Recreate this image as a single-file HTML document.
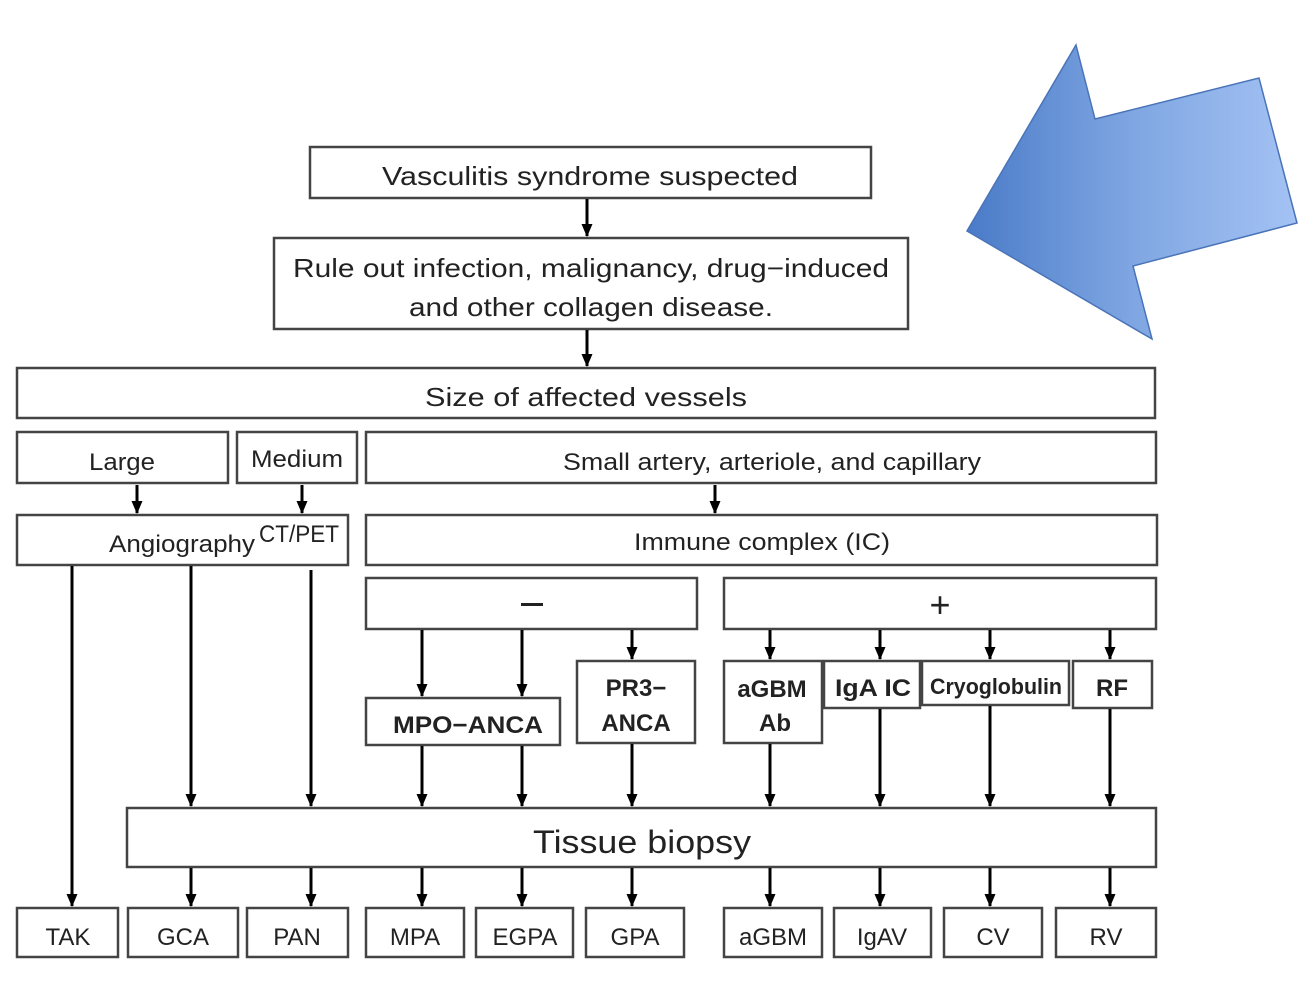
<!DOCTYPE html>
<html><head><meta charset="utf-8"><style>
html,body{margin:0;padding:0;background:#fff;}
svg{display:block;}
text{font-family:"Liberation Sans","DejaVu Sans",sans-serif;fill:#222;}
</style></head><body>
<svg width="1316" height="986" viewBox="0 0 1316 986" xmlns="http://www.w3.org/2000/svg">
<defs>
<marker id="ah" markerWidth="13" markerHeight="11" refX="12" refY="5.5" orient="auto" markerUnits="userSpaceOnUse" viewBox="0 0 13 11">
<path d="M0,0 L13,5.5 L0,11 Z" fill="#000"/>
</marker>
<linearGradient id="bg" x1="0" y1="0" x2="1" y2="0">
<stop offset="0" stop-color="#4a7bc8"/><stop offset="0.5" stop-color="#7fa6e2"/><stop offset="1" stop-color="#a4c2f4"/>
</linearGradient>
</defs>
<polygon points="1076,45 1095,119 1259,78 1297,223 1133,266 1152,339 967,231" fill="url(#bg)" stroke="#4a74b8" stroke-width="1.5"/>
<g fill="#fff" stroke="#444" stroke-width="2.5">
<rect x="310" y="147" width="561" height="51"/>
<rect x="274" y="238" width="634" height="91"/>
<rect x="17" y="368" width="1138" height="50"/>
<rect x="17" y="432" width="211" height="51"/>
<rect x="237" y="432" width="120" height="51"/>
<rect x="366" y="432" width="790" height="51"/>
<rect x="17" y="515" width="331" height="50"/>
<rect x="366" y="515" width="791" height="50"/>
<rect x="366" y="578" width="331" height="51"/>
<rect x="724" y="578" width="432" height="51"/>
<rect x="366" y="698" width="194" height="47"/>
<rect x="577" y="661" width="118" height="82"/>
<rect x="724" y="661" width="98" height="82"/>
<rect x="824" y="661" width="96" height="47"/>
<rect x="922" y="661" width="147" height="44"/>
<rect x="1073" y="661" width="79" height="47"/>
<rect x="127" y="808" width="1029" height="59"/>
<rect x="17" y="908" width="101" height="49"/>
<rect x="128" y="908" width="110" height="49"/>
<rect x="247" y="908" width="101" height="49"/>
<rect x="366" y="908" width="98" height="49"/>
<rect x="476" y="908" width="97" height="49"/>
<rect x="586" y="908" width="98" height="49"/>
<rect x="724" y="908" width="98" height="49"/>
<rect x="834" y="908" width="97" height="49"/>
<rect x="944" y="908" width="98" height="49"/>
<rect x="1056" y="908" width="100" height="49"/>
</g>
<g stroke="#000" stroke-width="3" marker-end="url(#ah)">
<line x1="587" y1="199" x2="587" y2="236"/>
<line x1="587" y1="330" x2="587" y2="366"/>
<line x1="137" y1="485" x2="137" y2="513"/>
<line x1="302" y1="485" x2="302" y2="513"/>
<line x1="715" y1="485" x2="715" y2="513"/>
<line x1="72" y1="566" x2="72" y2="906"/>
<line x1="191" y1="566" x2="191" y2="806"/>
<line x1="311" y1="570" x2="311" y2="806"/>
<line x1="422" y1="630" x2="422" y2="696"/>
<line x1="522" y1="630" x2="522" y2="696"/>
<line x1="632" y1="630" x2="632" y2="659"/>
<line x1="770" y1="630" x2="770" y2="659"/>
<line x1="880" y1="630" x2="880" y2="659"/>
<line x1="990" y1="630" x2="990" y2="659"/>
<line x1="1110" y1="630" x2="1110" y2="659"/>
<line x1="422" y1="746" x2="422" y2="806"/>
<line x1="522" y1="746" x2="522" y2="806"/>
<line x1="632" y1="744" x2="632" y2="806"/>
<line x1="770" y1="744" x2="770" y2="806"/>
<line x1="880" y1="709" x2="880" y2="806"/>
<line x1="990" y1="706" x2="990" y2="806"/>
<line x1="1110" y1="709" x2="1110" y2="806"/>
<line x1="191" y1="868" x2="191" y2="906"/>
<line x1="311" y1="868" x2="311" y2="906"/>
<line x1="422" y1="868" x2="422" y2="906"/>
<line x1="522" y1="868" x2="522" y2="906"/>
<line x1="632" y1="868" x2="632" y2="906"/>
<line x1="770" y1="868" x2="770" y2="906"/>
<line x1="880" y1="868" x2="880" y2="906"/>
<line x1="990" y1="868" x2="990" y2="906"/>
<line x1="1110" y1="868" x2="1110" y2="906"/>
</g>
<rect x="521" y="603" width="22" height="3" fill="#222"/>
<g text-anchor="middle">
<text x="590" y="185" font-size="26" textLength="416" lengthAdjust="spacingAndGlyphs">Vasculitis syndrome suspected</text>
<text x="591" y="277" font-size="26" textLength="596" lengthAdjust="spacingAndGlyphs">Rule out infection, malignancy, drug−induced</text>
<text x="591" y="316" font-size="26" textLength="364" lengthAdjust="spacingAndGlyphs">and other collagen disease.</text>
<text x="586" y="406" font-size="26" textLength="322" lengthAdjust="spacingAndGlyphs">Size of affected vessels</text>
<text x="122" y="470" font-size="24" textLength="66" lengthAdjust="spacingAndGlyphs">Large</text>
<text x="297" y="467" font-size="24" textLength="92" lengthAdjust="spacingAndGlyphs">Medium</text>
<text x="772" y="470" font-size="24" textLength="418" lengthAdjust="spacingAndGlyphs">Small artery, arteriole, and capillary</text>
<text x="182" y="552" font-size="24" textLength="146" lengthAdjust="spacingAndGlyphs">Angiography</text>
<text x="299" y="542" font-size="24" fill="#000" textLength="80" lengthAdjust="spacingAndGlyphs">CT/PET</text>
<text x="762" y="550" font-size="24" textLength="256" lengthAdjust="spacingAndGlyphs">Immune complex (IC)</text>
<text x="940" y="617" font-size="36">+</text>
<text x="468" y="733" font-size="24" font-weight="bold" textLength="150" lengthAdjust="spacingAndGlyphs">MPO−ANCA</text>
<text x="636" y="696" font-size="24" font-weight="bold">PR3−</text>
<text x="636" y="731" font-size="24" font-weight="bold">ANCA</text>
<text x="772" y="697" font-size="24" font-weight="bold">aGBM</text>
<text x="775" y="731" font-size="24" font-weight="bold">Ab</text>
<text x="873" y="696" font-size="24" font-weight="bold" textLength="76" lengthAdjust="spacingAndGlyphs">IgA IC</text>
<text x="996" y="694" font-size="22" font-weight="bold" textLength="132" lengthAdjust="spacingAndGlyphs">Cryoglobulin</text>
<text x="1112" y="696" font-size="24" font-weight="bold">RF</text>
<text x="642" y="853" font-size="32" textLength="218" lengthAdjust="spacingAndGlyphs">Tissue biopsy</text>
<text x="68" y="945" font-size="24">TAK</text>
<text x="183" y="945" font-size="24">GCA</text>
<text x="297" y="945" font-size="24">PAN</text>
<text x="415" y="945" font-size="24">MPA</text>
<text x="525" y="945" font-size="24">EGPA</text>
<text x="635" y="945" font-size="24">GPA</text>
<text x="773" y="945" font-size="24">aGBM</text>
<text x="882" y="945" font-size="24">IgAV</text>
<text x="993" y="945" font-size="24">CV</text>
<text x="1106" y="945" font-size="24">RV</text>
</g>
</svg>
</body></html>
